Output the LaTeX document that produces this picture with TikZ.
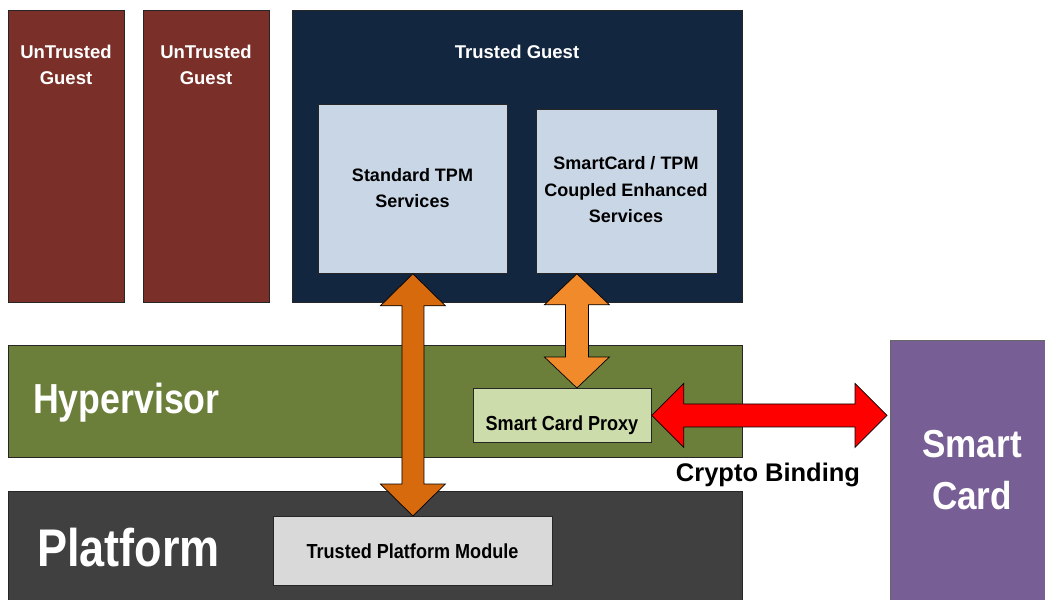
\documentclass[tikz,border=0pt]{standalone}
\usepackage{fontspec}
\setmainfont{Liberation Sans}
\newfontfamily\narrowfont{Liberation Sans}[FakeStretch=0.85]
\newfontfamily\cardfont{Liberation Sans}[FakeStretch=0.9]
\newfontfamily\boxfont{Liberation Sans}[FakeStretch=0.89]
\usetikzlibrary{calc}

\definecolor{untrusted}{HTML}{7A2F28}
\definecolor{trusted}{HTML}{12263F}
\definecolor{service}{HTML}{C9D6E6}
\definecolor{hyper}{HTML}{6B7F3A}
\definecolor{proxyfill}{HTML}{CCDCAA}
\definecolor{platform}{HTML}{404040}
\definecolor{tpmfill}{HTML}{D9D9D9}
\definecolor{cardfill}{HTML}{775E95}
\definecolor{darkorange}{HTML}{D86A0E}
\definecolor{lightorange}{HTML}{F08A2B}

\begin{document}
\begin{tikzpicture}[x=1pt,y=-1pt,
  box/.style={draw=black!85, line width=0.8pt, inner sep=0pt, anchor=north west},
  txt/.style={align=center, inner sep=0pt},
  % double-headed block arrow: #1 head length, #2 head half-width, #3 shaft half-width
  blockarrow/.style n args={3}{draw=black, line width=0.7pt, line join=miter, to path={
    -- ($(\tikztostart)!#1!(\tikztotarget)!#2!90:(\tikztotarget)$)
    -- ($(\tikztostart)!#1!(\tikztotarget)!#3!90:(\tikztotarget)$)
    -- ($(\tikztotarget)!#1!(\tikztostart)!#3!-90:(\tikztostart)$)
    -- ($(\tikztotarget)!#1!(\tikztostart)!#2!-90:(\tikztostart)$)
    -- (\tikztotarget)
    -- ($(\tikztotarget)!#1!(\tikztostart)!#2!90:(\tikztostart)$)
    -- ($(\tikztotarget)!#1!(\tikztostart)!#3!90:(\tikztostart)$)
    -- ($(\tikztostart)!#1!(\tikztotarget)!#3!-90:(\tikztotarget)$)
    -- ($(\tikztostart)!#1!(\tikztotarget)!#2!-90:(\tikztotarget)$)
    -- cycle}}
]
\useasboundingbox (0,0) rectangle (1045,600);

% guests
\node[box, fill=untrusted, minimum width=116, minimum height=292] (ug1) at (8,10) {};
\node[box, fill=untrusted, minimum width=126, minimum height=292] (ug2) at (143,10) {};
\node[box, fill=trusted, minimum width=450, minimum height=292] (tg) at (292,10) {};
\node[box, fill=service, minimum width=189, minimum height=169] (std) at (318,104) {};
\node[box, fill=service, minimum width=181, minimum height=164] (smc) at (536,109) {};

% hypervisor and platform layers
\node[box, fill=hyper, minimum width=734, minimum height=112] (hv) at (8,345) {};
\node[box, fill=proxyfill, minimum width=178, minimum height=54] (proxy) at (473,388) {};
\node[box, fill=platform, minimum width=734, minimum height=110] (pf) at (8,491) {};
\node[box, fill=tpmfill, minimum width=279, minimum height=69] (tpm) at (273,516) {};

% smart card
\node[box, draw=black!60, fill=cardfill, minimum width=160, minimum height=262] (card) at (890,340) {};

% labels
\node[txt, text=white, font={\bfseries\fontsize{18.5}{26}\selectfont}] (ug1t) at (66,65) {UnTrusted\\Guest};
\node[txt, text=white, font={\bfseries\fontsize{18.5}{26}\selectfont}] (ug2t) at (206,65) {UnTrusted\\Guest};
\node[txt, text=white, font={\bfseries\fontsize{18.5}{26}\selectfont}] (tgt) at (517,52) {Trusted Guest};
\node[txt, font={\bfseries\fontsize{18}{26}\selectfont}] (stdt) at (412.5,188) {Standard TPM\\Services};
\node[txt, font={\bfseries\fontsize{18}{26.5}\selectfont}] (smct) at (626,190) {SmartCard / TPM\\Coupled Enhanced\\Services};
\node[txt, text=white, anchor=west, font={\narrowfont\bfseries\fontsize{42}{50}\selectfont}] (hvt) at (33,403) {Hypervisor};
\node[txt, font={\boxfont\bfseries\fontsize{20.3}{24}\selectfont}] (proxyt) at (562,425) {Smart Card Proxy};
\node[txt, text=white, anchor=west, font={\narrowfont\bfseries\fontsize{53}{60}\selectfont}] (pft) at (37,548) {Platform};
\node[txt, font={\boxfont\bfseries\fontsize{20.3}{24}\selectfont}] (tpmt) at (412.5,551) {Trusted Platform Module};
\node[txt, text=white, font={\cardfont\bfseries\fontsize{39}{52}\selectfont}] (cardt) at (972,470) {Smart\\Card};
\node[txt, font={\bfseries\fontsize{25.5}{30}\selectfont}] (crypto) at (768,475) {Crypto Binding};

% arrow end points
\coordinate (a2top) at ($(smc.south)+(-50,0)$);
\coordinate (a2bot) at (a2top |- proxy.north);
\coordinate (cbend) at ($(card.west |- proxy.east)+(-3,0)$);

% connectors
\draw[blockarrow={32pt}{32.5pt}{11pt}, fill=darkorange] (std.south) to (tpm.north);
\draw[blockarrow={31pt}{32.5pt}{11.5pt}, fill=lightorange] (a2top) to (a2bot);
\draw[blockarrow={32pt}{32pt}{11.5pt}, fill=red] (proxy.east) to (cbend);
\end{tikzpicture}
\end{document}
